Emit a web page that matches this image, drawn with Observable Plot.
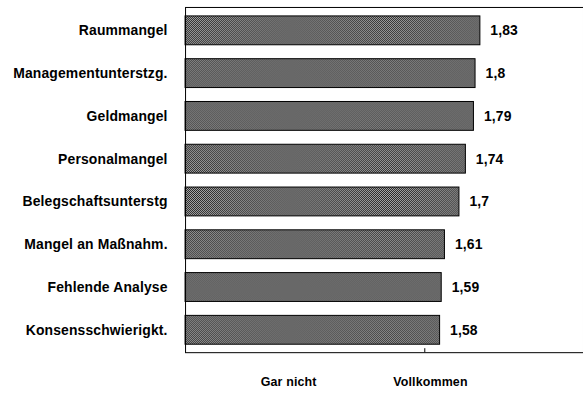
<!DOCTYPE html>
<html>
<head>
<meta charset="utf-8">
<script src="https://cdn.jsdelivr.net/npm/d3@7"></script>
<script src="https://cdn.jsdelivr.net/npm/@observablehq/plot@0.6"></script>
<style>
  html, body { margin: 0; padding: 0; background: #fff; overflow: hidden; }
</style>
</head>
<body>
<svg width="0" height="0" style="position:absolute">
  <defs>
    <pattern id="dither" width="2" height="2" patternUnits="userSpaceOnUse">
      <rect width="2" height="2" fill="#aaaaaa"></rect>
      <rect x="0" y="0" width="1" height="1" fill="#262626"></rect>
      <rect x="1" y="1" width="1" height="1" fill="#262626"></rect>
    </pattern>
  </defs>
</svg>
<div id="chart"></div>
<script>
const categories = ["Raummangel", "Managementunterstzg.", "Geldmangel", "Personalmangel", "Belegschaftsunterstg", "Mangel an Maßnahm.", "Fehlende Analyse", "Konsensschwierigkt."];
const values = [1.83, 1.8, 1.79, 1.74, 1.7, 1.61, 1.59, 1.58];
const scaleLabels = ["Gar nicht", "Vollkommen"];
const scaleLabelPos = [0.64, 1.52];
const scaleTicks = [1.485];

const data = categories.map((c, i) => ({cat: c, value: values[i], label: String(values[i]).replace(".", ",")}));
const scaleData = scaleLabels.map((t, i) => ({text: t, x: scaleLabelPos[i]}));

const chart = Plot.plot({
  width: 586,
  height: 401,
  marginLeft: 186,
  marginRight: 0,
  marginTop: 7,
  marginBottom: 47,
  style: {fontFamily: "'Liberation Sans', Arial, Helvetica, sans-serif", fontSize: "14px", fontWeight: "bold", color: "#000", background: "#fff", letterSpacing: "0.15px"},
  x: {domain: [0, 2.47], axis: null},
  y: {domain: categories, padding: 0, label: null},
  marks: [
    Plot.axisY({tickSize: 0, tickPadding: 18, label: null, fill: "#000"}),
    Plot.barX(data, {x: "value", y: "cat", fill: "url(#dither)", stroke: "#000", strokeWidth: 1, insetTop: 7, insetBottom: 7}),
    Plot.text(data, {x: "value", y: "cat", text: "label", dx: 10, textAnchor: "start", fill: "#000"}),
    Plot.frame({stroke: "#000", strokeWidth: 1}),
    Plot.axisX({ticks: scaleTicks, tickSize: -4, tickFormat: () => "", label: null, anchor: "bottom", stroke: "#000"}),
    Plot.text(scaleData, {x: "x", text: "text", frameAnchor: "bottom", dy: 33, fill: "#000", fontSize: 12.5})
  ]
});
document.getElementById("chart").appendChild(chart);
</script>
</body>
</html>
